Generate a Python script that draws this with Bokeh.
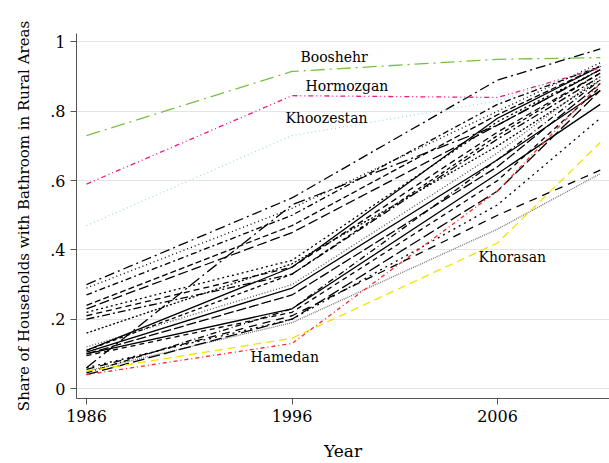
from bokeh.plotting import figure
from bokeh.models import Range1d, FixedTicker, Label
from bokeh.embed import file_html
from bokeh.resources import INLINE

years = [1986, 1996, 2006, 2011]

# highlighted provinces
booshehr   = [0.73, 0.915, 0.95, 0.955]
hormozgan  = [0.59, 0.845, 0.84, 0.925]
khoozestan = [0.47, 0.73, 0.83, 0.93]
khorasan   = [0.05, 0.145, 0.42, 0.71]
hamedan    = [0.04, 0.13, 0.57, 0.88]

# other provinces (black lines)
others = [
    [0.30, 0.55, 0.89, 0.98],
    [0.29, 0.52, 0.80, 0.94],
    [0.27, 0.50, 0.82, 0.93],
    [0.24, 0.47, 0.79, 0.93],
    [0.23, 0.45, 0.76, 0.92],
    [0.22, 0.37, 0.77, 0.92],
    [0.21, 0.35, 0.74, 0.91],
    [0.20, 0.33, 0.72, 0.90],
    [0.16, 0.36, 0.70, 0.89],
    [0.12, 0.30, 0.68, 0.90],
    [0.11, 0.35, 0.78, 0.93],
    [0.105, 0.29, 0.66, 0.86],
    [0.10, 0.23, 0.62, 0.82],
    [0.10, 0.27, 0.64, 0.88],
    [0.095, 0.22, 0.60, 0.87],
    [0.06, 0.53, 0.76, 0.92],
    [0.06, 0.20, 0.53, 0.78],
    [0.055, 0.21, 0.50, 0.63],
    [0.05, 0.19, 0.46, 0.62],
    [0.045, 0.23, 0.66, 0.89],
    [0.04, 0.20, 0.57, 0.86],
    [0.11, 0.33, 0.73, 0.91],
]
other_dashes = ["10 4 2 4", "1 3", "6 3 2 3", "6 3", "10 4", "2 3", "6 4",
                "8 3 2 3", "2 2", "1 2", "solid", "solid", "solid", "10 3",
                "5 4", "12 4 2 4", "2 4", "8 6", "1 1", "6 3 1 3", "12 4", "4 3"]
other_colors = ["black"] * 9 + ["#555555"] + ["black"] * 8 + ["#777777"] + ["black"] * 3

y_ticks = [0, 0.2, 0.4, 0.6, 0.8, 1.0]
y_tick_labels = ["0", ".2", ".4", ".6", ".8", "1"]
x_ticks = [1986, 1996, 2006]

FONT = "DejaVu Serif"

p = figure(width=609, height=463, output_backend="svg", toolbar_location=None,
           x_range=Range1d(1985.513, 2011.45), y_range=Range1d(-0.0288, 1.0245),
           min_border_left=76, min_border_right=0, min_border_top=33, min_border_bottom=64)
p.outline_line_color = None
p.background_fill_color = "white"
p.border_fill_color = "white"

p.xgrid.visible = False
p.ygrid.ticker = FixedTicker(ticks=y_ticks)
p.ygrid.grid_line_color = "#e4e4e4"
p.ygrid.grid_line_width = 1.2

p.xaxis.ticker = FixedTicker(ticks=x_ticks)
p.yaxis.ticker = FixedTicker(ticks=y_ticks)
p.yaxis.major_label_overrides = {t: l for t, l in zip(y_ticks, y_tick_labels)}
p.yaxis.major_label_orientation = "horizontal"
for ax in (p.xaxis, p.yaxis):
    ax.axis_line_color = "#555555"
    ax.major_tick_line_color = "#555555"
    ax.minor_tick_line_color = None
    ax.major_tick_out = 6
    ax.major_tick_in = 0
    ax.major_label_text_font = FONT
    ax.major_label_text_font_size = "16px"
    ax.major_label_text_color = "black"
    ax.axis_label_text_font = FONT
    ax.axis_label_text_font_style = "normal"
    ax.axis_label_text_color = "black"
p.xaxis.axis_label_text_font_size = "17px"
p.yaxis.axis_label_text_font_size = "15px"
p.xaxis.axis_label = "Year"
p.yaxis.axis_label = "Share of Households with Bathroom in Rural Areas"
p.xaxis.axis_label_standoff = 16
p.yaxis.axis_label_standoff = 14

for vals, dash, col in zip(others, other_dashes, other_colors):
    p.line(years, vals, line_color=col, line_dash=dash, line_width=1.3)

p.line(years, booshehr, line_color="#78c043", line_dash="14 5 2 5", line_width=1.3)
p.line(years, hormozgan, line_color="#f0197d", line_dash="5 3 1 3 1 3", line_width=1.3)
p.line(years, khoozestan, line_color="#a9d5ea", line_dash="1 3", line_width=1.3)
p.line(years, khorasan, line_color="#f2e400", line_dash="8 5", line_width=1.3)
p.line(years, hamedan, line_color="#ff2a2a", line_dash="4 3 1 3", line_width=1.3)

labels = [("Booshehr", 1996.41, 0.958), ("Hormozgan", 1996.66, 0.872),
          ("Khoozestan", 1995.68, 0.78), ("Khorasan", 2005.08, 0.38),
          ("Hamedan", 1993.98, 0.092)]
for txt, lx, ly in labels:
    p.add_layout(Label(x=lx, y=ly, text=txt, text_font=FONT, text_font_size="14px",
                       text_baseline="middle", text_align="left", text_color="black",
                       background_fill_color=None))

open("out.html", "w").write(file_html(p, INLINE))
